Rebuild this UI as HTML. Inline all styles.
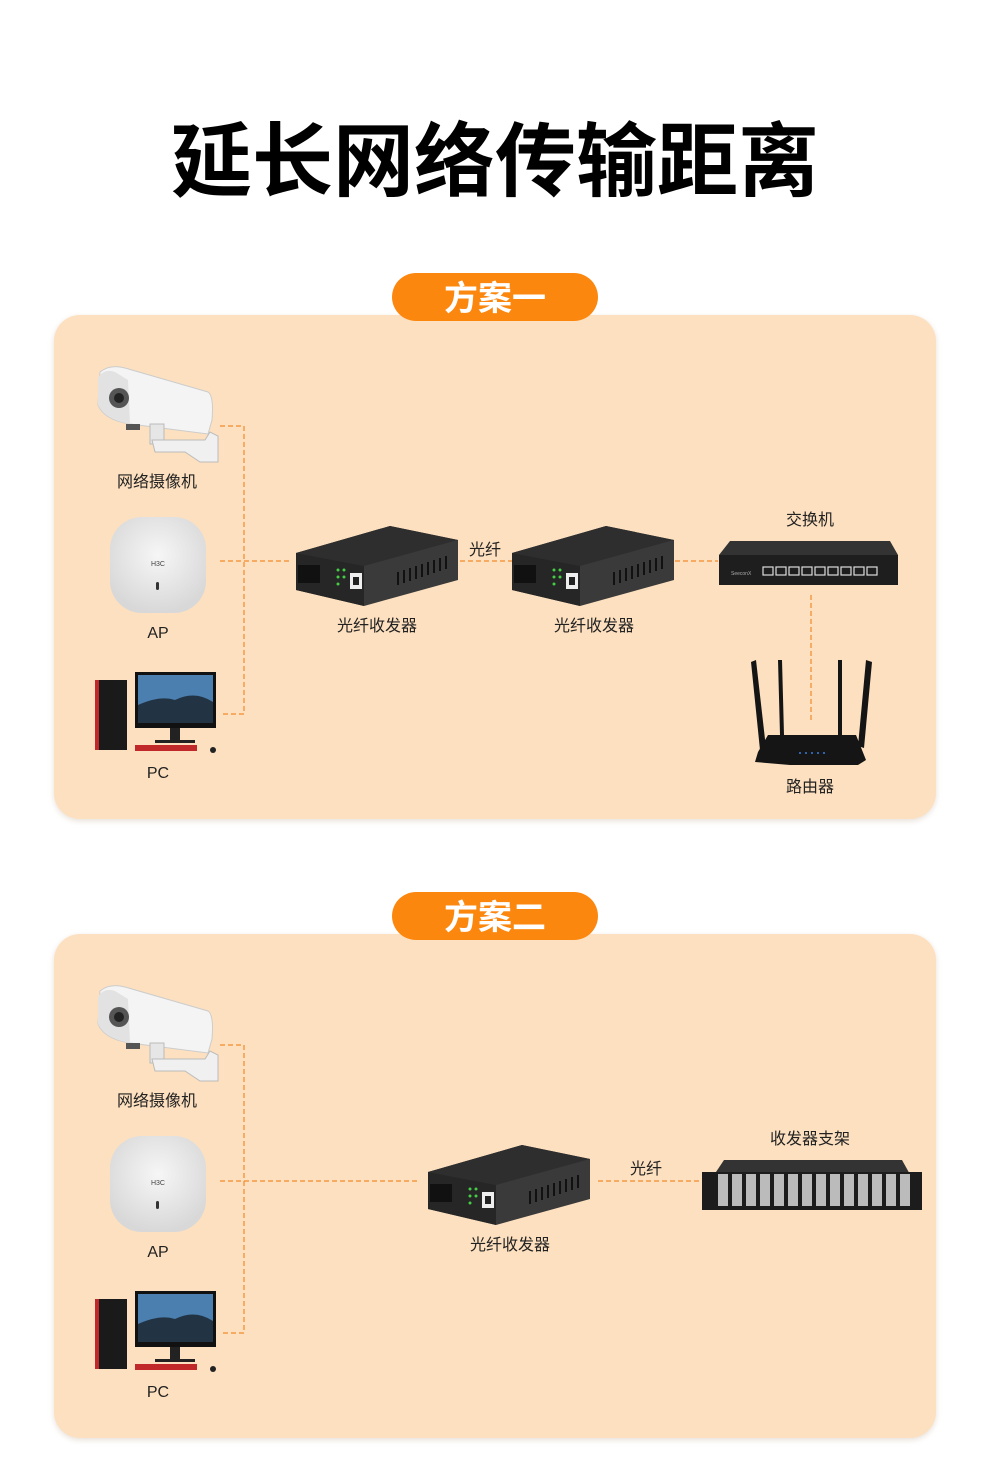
<!DOCTYPE html>
<html><head><meta charset="utf-8"><style>
body{margin:0;background:#fff}
svg{display:block}
text{font-family:"Liberation Sans","Noto Sans CJK SC",sans-serif}
</style></head><body>
<svg width="990" height="1479" viewBox="0 0 990 1479" xmlns="http://www.w3.org/2000/svg">
<defs>
<filter id="sh" x="-5%" y="-5%" width="110%" height="110%"><feGaussianBlur stdDeviation="3"/></filter>
<radialGradient id="apg" cx="50%" cy="40%" r="60%"><stop offset="0" stop-color="#f6f6f6"/><stop offset="1" stop-color="#d8d8d8"/></radialGradient>
<g id="cam">
  <path d="M100 372 Q110 364 125 368 L208 392 Q214 396 212 420 L208 434 L130 424 Q104 420 98 405 Z" fill="#f4f4f4" stroke="#ccc"/>
  <path d="M98 378 Q104 368 115 372 L128 380 L130 424 Q106 420 98 405 Z" fill="#e2e2e2"/>
  <circle cx="119" cy="398" r="10" fill="#555"/><circle cx="119" cy="398" r="5" fill="#222"/>
  <rect x="150" y="424" width="14" height="20" fill="#e6e6e6" stroke="#bbb"/>
  <path d="M152 440 L205 440 L210 432 L218 436 L218 462 L200 462 L185 452 L155 452 Z" fill="#f0f0f0" stroke="#bbb"/>
  <rect x="126" y="424" width="14" height="6" fill="#555"/>
</g>
<g id="ap">
  <rect x="110" y="517" width="96" height="96" rx="32" fill="url(#apg)"/>
  <text x="158" y="566" font-size="7" text-anchor="middle" fill="#444">H3C</text>
  <rect x="156" y="582" width="3" height="8" rx="1.5" fill="#333"/>
</g>
<g id="pc">
  <rect x="95" y="680" width="32" height="70" fill="#1a1a1a"/>
  <rect x="95" y="680" width="4" height="70" fill="#c0282a"/>
  <rect x="135" y="672" width="81" height="56" fill="#111"/>
  <rect x="138" y="675" width="75" height="48" fill="#4a7fb0"/>
  <path d="M138 705 Q160 695 175 700 Q195 690 213 702 L213 723 L138 723Z" fill="#223344"/>
  <rect x="170" y="728" width="10" height="12" fill="#222"/>
  <rect x="155" y="740" width="40" height="3" fill="#222"/>
  <rect x="135" y="745" width="62" height="6" fill="#c0282a"/>
  <circle cx="213" cy="750" r="3" fill="#222"/>
</g>
<g id="trx">
  <path d="M296 553 L390 526 L458 540 L458 580 L364 606 L296 590 Z" fill="#3a3a3a"/>
  <path d="M296 553 L390 526 L458 540 L364 566 Z" fill="#2e2e2e"/>
  <path d="M296 553 L364 566 L364 606 L296 590 Z" fill="#262626"/>
  <rect x="298" y="565" width="22" height="18" fill="#111"/>
  <rect x="350" y="573" width="12" height="16" fill="#eee"/><rect x="353" y="577" width="6" height="8" fill="#222"/>
  <g fill="#4c4"><circle cx="338" cy="570" r="1.5"/><circle cx="338" cy="577" r="1.5"/><circle cx="338" cy="584" r="1.5"/><circle cx="344" cy="570" r="1.5"/><circle cx="344" cy="577" r="1.5"/></g>
  <g stroke="#111" stroke-width="2"><line x1="398" y1="585" x2="398" y2="572"/><line x1="404" y1="583" x2="404" y2="570"/><line x1="410" y1="581" x2="410" y2="568"/><line x1="416" y1="579" x2="416" y2="566"/><line x1="422" y1="577" x2="422" y2="564"/><line x1="428" y1="575" x2="428" y2="562"/><line x1="434" y1="573" x2="434" y2="560"/><line x1="440" y1="571" x2="440" y2="558"/><line x1="446" y1="569" x2="446" y2="556"/></g>
</g>
</defs>

<text x="495" y="190" font-size="81" font-weight="bold" text-anchor="middle" fill="#000" style="font-family:'Noto Sans CJK SC',sans-serif">延长网络传输距离</text>

<g>
<rect x="54" y="317" width="882" height="504" rx="26" fill="#e8e0d8" filter="url(#sh)"/>
<rect x="54" y="315" width="882" height="504" rx="26" fill="#fde0bf"/>
<rect x="392" y="273" width="206" height="48" rx="24" fill="#fb870f"/>
<text x="495" y="310" font-size="34" font-weight="bold" text-anchor="middle" fill="#fff">方案一</text>

<rect x="54" y="936" width="882" height="504" rx="26" fill="#e8e0d8" filter="url(#sh)"/>
<rect x="54" y="934" width="882" height="504" rx="26" fill="#fde0bf"/>
<rect x="392" y="892" width="206" height="48" rx="24" fill="#fb870f"/>
<text x="495" y="929" font-size="34" font-weight="bold" text-anchor="middle" fill="#fff">方案二</text>
</g>

<g stroke="#f28a2a" stroke-width="1.2" stroke-dasharray="5,3" fill="none">
<path d="M220 426 H244 V714 H220"/>
<path d="M220 561 H290"/>
<path d="M460 561 H512"/>
<path d="M675 561 H718"/>
<path d="M811 595 V720"/>
</g>
<use href="#cam"/><use href="#ap"/><use href="#pc"/>
<use href="#trx"/><use href="#trx" transform="translate(216,0)"/>
<g>
<path d="M719 555 L730 541 L890 541 L898 555 Z" fill="#333"/>
<rect x="719" y="555" width="179" height="30" fill="#1e1e1e"/>
<text x="731" y="575" font-size="5" fill="#aaa">SeeconX</text>
<g fill="none" stroke="#ddd" stroke-width="1.2">
<rect x="763" y="567" width="10" height="8"/><rect x="776" y="567" width="10" height="8"/><rect x="789" y="567" width="10" height="8"/><rect x="802" y="567" width="10" height="8"/><rect x="815" y="567" width="10" height="8"/><rect x="828" y="567" width="10" height="8"/><rect x="841" y="567" width="10" height="8"/><rect x="854" y="567" width="10" height="8"/><rect x="867" y="567" width="10" height="8"/>
</g>
</g>
<g fill="#151515">
<path d="M751 662 L756 660 L766 748 L760 750 Z"/>
<path d="M778 660 L782 660 L784 735 L780 735 Z"/>
<path d="M838 660 L842 660 L842 735 L838 735 Z"/>
<path d="M866 660 L872 662 L864 748 L858 746 Z"/>
<path d="M768 735 L856 735 L866 760 L858 765 L790 765 L755 762 L758 752 Z"/>
</g>
<g fill="#3a7be0"><circle cx="800" cy="753" r="1"/><circle cx="806" cy="753" r="1"/><circle cx="812" cy="753" r="1"/><circle cx="818" cy="753" r="1"/><circle cx="824" cy="753" r="1"/></g>

<g font-size="16" fill="#222" text-anchor="middle">
<text x="157" y="487">网络摄像机</text>
<text x="158" y="638">AP</text>
<text x="158" y="778">PC</text>
<text x="377" y="631">光纤收发器</text>
<text x="485" y="555">光纤</text>
<text x="594" y="631">光纤收发器</text>
<text x="810" y="525">交换机</text>
<text x="810" y="792">路由器</text>
</g>

<g stroke="#f28a2a" stroke-width="1.2" stroke-dasharray="5,3" fill="none">
<path d="M220 1045 H244 V1333 H220"/>
<path d="M220 1181 H420"/>
<path d="M598 1181 H700"/>
</g>
<g transform="translate(0,619)"><use href="#cam"/><use href="#ap"/><use href="#pc"/></g>
<use href="#trx" transform="translate(132,619)"/>
<g>
<path d="M712 1178 L724 1160 L902 1160 L912 1178 Z" fill="#333"/>
<rect x="702" y="1172" width="220" height="38" fill="#1c1c1c"/>
<g fill="#bbb">
<rect x="718" y="1174" width="10" height="32"/><rect x="732" y="1174" width="10" height="32"/><rect x="746" y="1174" width="10" height="32"/><rect x="760" y="1174" width="10" height="32"/><rect x="774" y="1174" width="10" height="32"/><rect x="788" y="1174" width="10" height="32"/><rect x="802" y="1174" width="10" height="32"/><rect x="816" y="1174" width="10" height="32"/><rect x="830" y="1174" width="10" height="32"/><rect x="844" y="1174" width="10" height="32"/><rect x="858" y="1174" width="10" height="32"/><rect x="872" y="1174" width="10" height="32"/><rect x="886" y="1174" width="10" height="32"/><rect x="900" y="1174" width="10" height="32"/>
</g>
</g>
<g font-size="16" fill="#222" text-anchor="middle">
<text x="157" y="1106">网络摄像机</text>
<text x="158" y="1257">AP</text>
<text x="158" y="1397">PC</text>
<text x="510" y="1250">光纤收发器</text>
<text x="646" y="1174">光纤</text>
<text x="810" y="1144">收发器支架</text>
</g>
</svg>
</body></html>
